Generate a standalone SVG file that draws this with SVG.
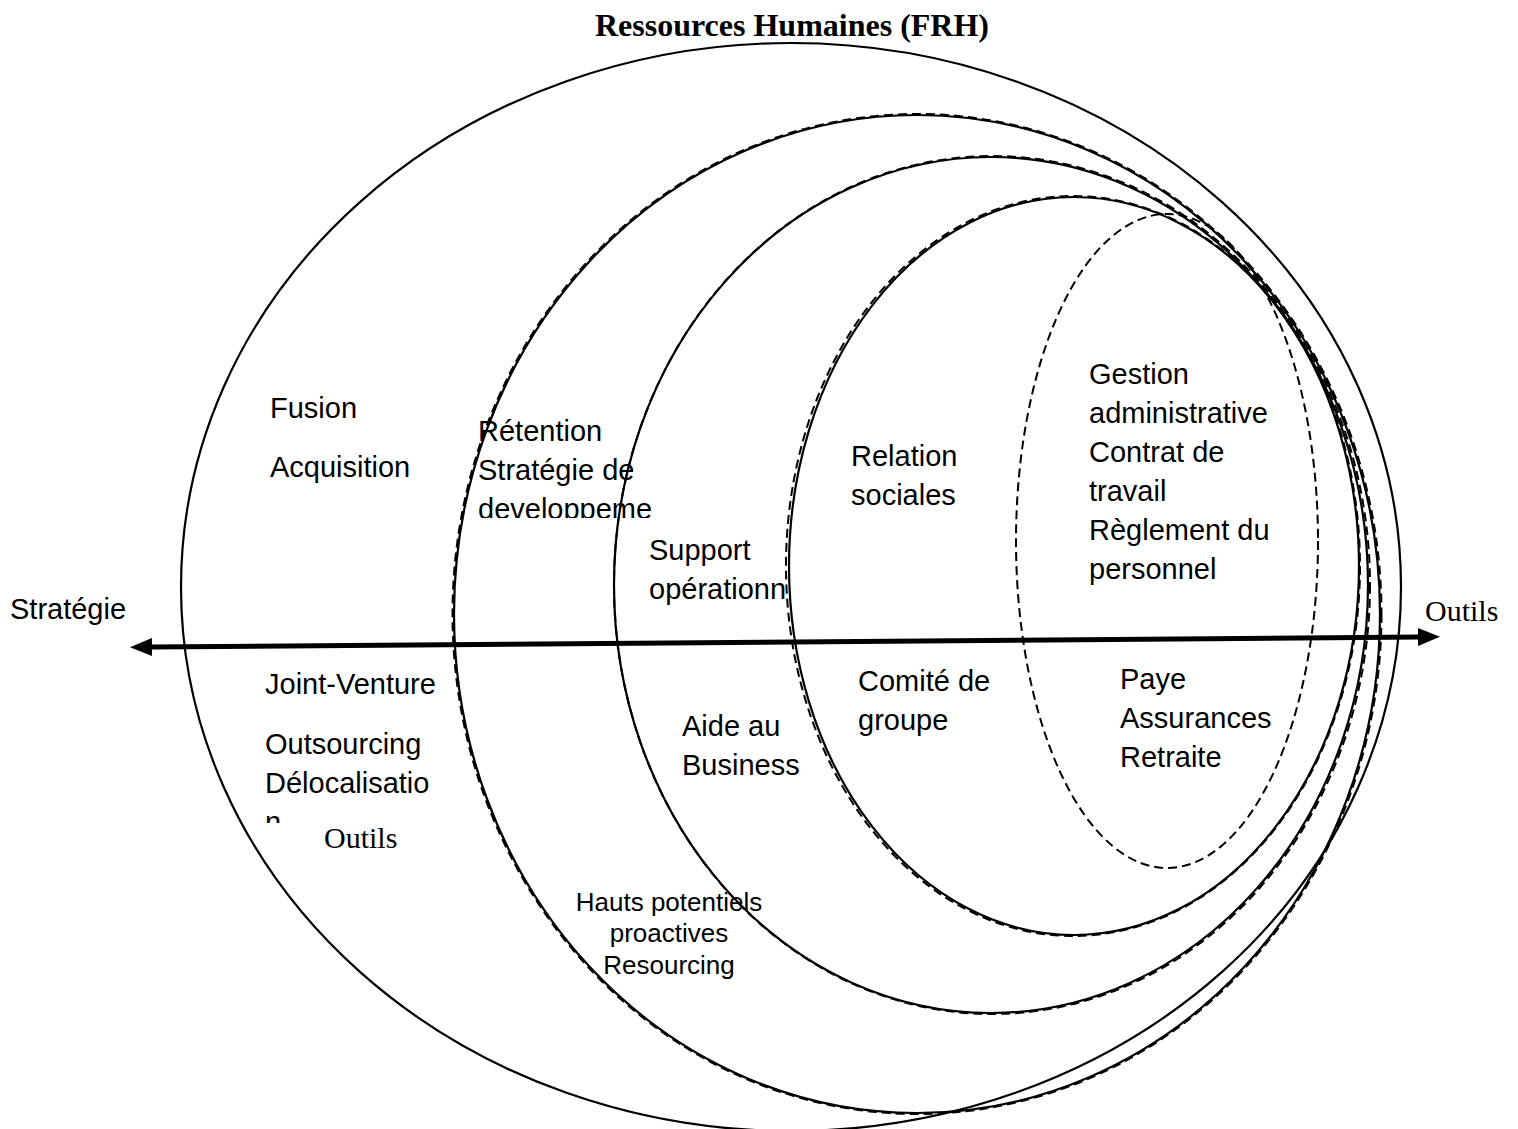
<svg xmlns="http://www.w3.org/2000/svg" width="1518" height="1129" viewBox="0 0 1518 1129">
<style>
.sol{fill:none;stroke:#000;stroke-width:2.2}
.dsh{fill:none;stroke:#000;stroke-width:2;stroke-dasharray:9 5}
.t{font-family:"Liberation Sans",Arial,sans-serif;font-size:29px;fill:#000}
.ts{font-family:"Liberation Sans",Arial,sans-serif;font-size:26px;fill:#000;text-anchor:middle}
.serif{font-family:"Liberation Serif","Times New Roman",serif;font-size:30px;fill:#000}
.title{font-family:"Liberation Serif","Times New Roman",serif;font-size:32px;font-weight:bold;fill:#000;text-anchor:middle}
</style>
<defs>
<marker id="ah" viewBox="0 0 22 18" markerWidth="22" markerHeight="18" markerUnits="userSpaceOnUse" refX="2" refY="9" orient="auto-start-reverse">
<path d="M0,0 L22,9 L0,18 z" fill="#000"/>
</marker>
<clipPath id="clipDev"><rect x="470" y="400" width="200" height="118"/></clipPath>
<clipPath id="clipDel"><rect x="255" y="720" width="200" height="103"/></clipPath>
</defs>
<rect width="1518" height="1129" fill="#fff"/>
<text x="792" y="36" class="title">Ressources Humaines (FRH)</text>
<g id="e1"><ellipse class="sol" cx="791" cy="587" rx="610" ry="544"/></g>
<g id="e2"><ellipse class="sol" cx="917" cy="614" rx="463" ry="499"/><ellipse class="dsh" cx="917" cy="614" rx="464.5" ry="500"/></g>
<g id="e3"><ellipse class="sol" cx="991" cy="585" rx="377" ry="428"/><ellipse class="dsh" cx="992" cy="585" rx="378" ry="429"/></g>
<g id="e4"><ellipse class="sol" cx="1074" cy="566" rx="285" ry="369"/><ellipse class="dsh" cx="1073" cy="566" rx="287" ry="370"/></g>
<g id="e5"><ellipse class="dsh" cx="1167" cy="541" rx="151" ry="327"/></g>
<g id="connectors">
<line x1="150" y1="647" x2="1420" y2="637" stroke="#000" stroke-width="5" marker-start="url(#ah)" marker-end="url(#ah)"/>
</g>
<g id="axis-labels">
<text x="10" y="619" class="t">Stratégie</text>
<text x="1425" y="621" class="serif">Outils</text>
<text x="324" y="848" class="serif">Outils</text>
</g>
<g id="n-fusion">
<text x="270" y="418" class="t">Fusion</text>
<text x="270" y="477" class="t">Acquisition</text>
</g>
<g id="n-retention" clip-path="url(#clipDev)">
<text x="478" y="441" class="t">Rétention</text>
<text x="478" y="480" class="t">Stratégie de</text>
<text x="478" y="519" class="t">developpeme</text>
</g>
<g id="n-relation">
<text x="851" y="466" class="t">Relation</text>
<text x="851" y="505" class="t">sociales</text>
</g>
<g id="n-gestion">
<text x="1089" y="384" class="t">Gestion</text>
<text x="1089" y="423" class="t">administrative</text>
<text x="1089" y="462" class="t">Contrat de</text>
<text x="1089" y="501" class="t">travail</text>
<text x="1089" y="540" class="t">Règlement du</text>
<text x="1089" y="579" class="t">personnel</text>
</g>
<g id="n-support">
<text x="649" y="560" class="t">Support</text>
<text x="649" y="599" class="t">opérationn</text>
</g>
<g id="n-joint">
<text x="265" y="694" class="t">Joint-Venture</text>
</g>
<g id="n-outsourcing" clip-path="url(#clipDel)">
<text x="265" y="754" class="t">Outsourcing</text>
<text x="265" y="793" class="t">Délocalisatio</text>
<text x="265" y="832" class="t">n</text>
</g>
<g id="n-aide">
<text x="682" y="736" class="t">Aide au</text>
<text x="682" y="775" class="t">Business</text>
</g>
<g id="n-comite">
<text x="858" y="691" class="t">Comité de</text>
<text x="858" y="730" class="t">groupe</text>
</g>
<g id="n-paye">
<text x="1120" y="689" class="t">Paye</text>
<text x="1120" y="728" class="t">Assurances</text>
<text x="1120" y="767" class="t">Retraite</text>
</g>
<g id="n-hauts">
<text x="669" y="911" class="ts">Hauts potentiels</text>
<text x="669" y="942" class="ts">proactives</text>
<text x="669" y="974" class="ts">Resourcing</text>
</g>
</svg>
